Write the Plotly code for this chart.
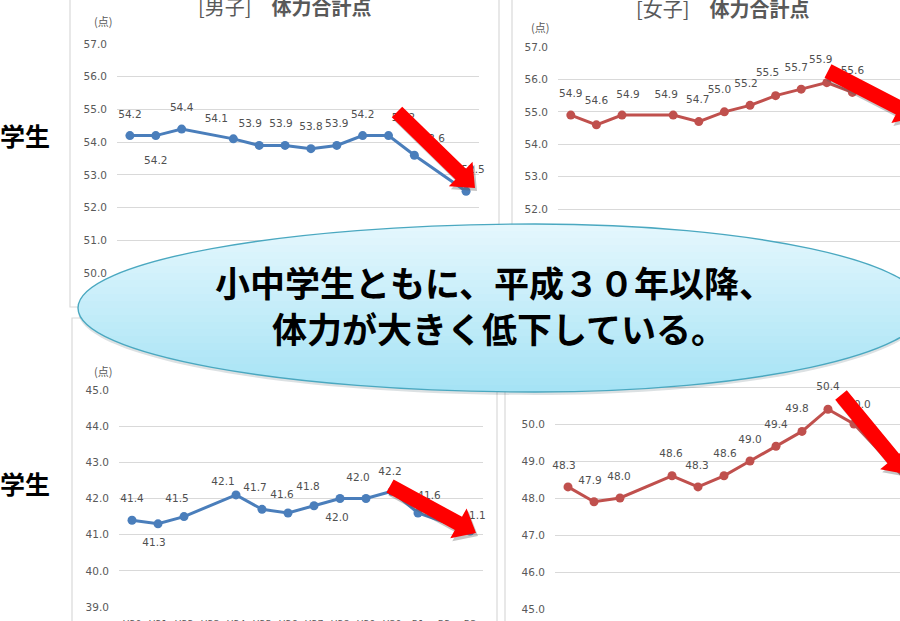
import math
import plotly.graph_objects as go

W, H = 900, 621

# survey years (H23 and R2 had no survey)
years = ["H20", "H21", "H22", "H23", "H24", "H25", "H26", "H27", "H28", "H29", "H30", "R1", "R2", "R3"]

elem_boys = [54.2, 54.2, 54.4, None, 54.1, 53.9, 53.9, 53.8, 53.9, 54.2, 54.2, 53.6, None, 52.5]
elem_girls = [54.9, 54.6, 54.9, None, 54.9, 54.7, 55.0, 55.2, 55.5, 55.7, 55.9, 55.6, None, None]
jh_boys = [41.4, 41.3, 41.5, None, 42.1, 41.7, 41.6, 41.8, 42.0, 42.0, 42.2, 41.6, None, 41.1]
jh_girls = [48.3, 47.9, 48.0, None, 48.6, 48.3, 48.6, 49.0, 49.4, 49.8, 50.4, 50.0, None, 48.5]

BLUE = "#4a7ebb"
RED = "#c0504d"
GRAY = "#595959"

# label offsets in pixels (dx, dy) for each point
off_eb = [(0, -20), (0, 26), (0, -21), None, (-17, -19), (-9, -21), (-4, -21), (0, -21),
          (0, -21), (0, -20), (15, -17), (19, -16), None, (7, -21)]
off_eg = [(0, -21), (0, -23), (6, -20), None, (-7, -20), (-1, -21), (-5, -21), (-4, -21),
          (-8, -22), (-5, -21), (-6, -22), (0, -21), None, None]
off_jb = [(0, -21), (-4, 20), (-7, -17), None, (-13, -13), (-7, -21), (-6, -18), (-6, -18),
          (-3, 20), (-8, -20), (-2, -19), (11, -17), None, (4, -15)]
off_jg = [(-4, -21), (-4, -20), (-1, -21), None, (-1, -21), (-1, -21), (1, -21), (0, -21),
          (0, -21), (-5, -22), (0, -22), (5, -19), None, None]

# plot areas in pixels: x from/to, y top/bottom; "hide" = tick labels under the balloon
charts = [
    dict(vals=elem_boys, color=BLUE, offs=off_eb, xdom=(117, 479), ydom=(44, 273),
         xr=[-0.5, 13.5], yr=[50, 57], xlabels=False, hide=[]),
    dict(vals=elem_girls, color=RED, offs=off_eg, xdom=(558, 900), ydom=(47, 274),
         xr=[-0.5, 12.86], yr=[50, 57], xlabels=False, hide=[50, 51]),
    dict(vals=jh_boys, color=BLUE, offs=off_jb, xdom=(119, 483), ydom=(390, 607),
         xr=[-0.5, 13.5], yr=[39, 45], xlabels=True, hide=[]),
    dict(vals=jh_girls, color=RED, offs=off_jg, xdom=(555, 900), ydom=(350, 609),
         xr=[-0.5, 12.77], yr=[45, 52], xlabels=True, hide=[51, 52]),
]


def px_x(x):
    return x / W


def px_y(y):
    return 1 - y / H


def pt(x, y):
    return "{0:.5f},{1:.5f}".format(px_x(x), px_y(y))


def arrow_path(tail, tip, shaft=15, head=34, head_len=20, shift=(0, 0)):
    tx, ty = tail[0] + shift[0], tail[1] + shift[1]
    hx, hy = tip[0] + shift[0], tip[1] + shift[1]
    L = math.hypot(hx - tx, hy - ty)
    ux, uy = (hx - tx) / L, (hy - ty) / L
    nx, ny = -uy, ux
    bx, by = hx - ux * head_len, hy - uy * head_len
    pts = [(tx + nx * shaft / 2, ty + ny * shaft / 2), (bx + nx * shaft / 2, by + ny * shaft / 2),
           (bx + nx * head / 2, by + ny * head / 2), (hx, hy),
           (bx - nx * head / 2, by - ny * head / 2), (bx - nx * shaft / 2, by - ny * shaft / 2),
           (tx - nx * shaft / 2, ty - ny * shaft / 2)]
    return "M " + " L ".join(pt(x, y) for x, y in pts) + " Z"


# callout balloon: a bit longer on the left than on the right
EL = dict(cx=535, cy=308, rxl=457, rxr=390, ry=84)


def ellipse_path(cx, cy, rxl, rxr, ry, dy=0):
    k = 0.5523
    cy = cy + dy
    return ("M " + pt(cx - rxl, cy)
            + " C " + pt(cx - rxl, cy - k * ry) + " " + pt(cx - k * rxl, cy - ry) + " " + pt(cx, cy - ry)
            + " C " + pt(cx + k * rxr, cy - ry) + " " + pt(cx + rxr, cy - k * ry) + " " + pt(cx + rxr, cy)
            + " C " + pt(cx + rxr, cy + k * ry) + " " + pt(cx + k * rxr, cy + ry) + " " + pt(cx, cy + ry)
            + " C " + pt(cx - k * rxl, cy + ry) + " " + pt(cx - rxl, cy + k * ry) + " " + pt(cx - rxl, cy)
            + " Z")


def band_path(y0, y1, cx, cy, rxl, rxr, ry):
    # horizontal strip of the balloon between y0 and y1
    def half(y):
        t = max(0.0, 1 - ((y - cy) / ry) ** 2)
        return math.sqrt(t)
    ys = [y0 + (y1 - y0) * j / 4 for j in range(5)]
    left = [(cx - rxl * half(y), y) for y in ys]
    right = [(cx + rxr * half(y), y) for y in reversed(ys)]
    return "M " + " L ".join(pt(x, y) for x, y in left + right) + " Z"


def mix(c0, c1, t):
    a = [int(c0[i:i + 2], 16) for i in (1, 3, 5)]
    b = [int(c1[i:i + 2], 16) for i in (1, 3, 5)]
    return "#" + "".join("{0:02x}".format(round(a[i] + (b[i] - a[i]) * t)) for i in range(3))


fig = go.Figure()
idx = list(range(len(years)))

for n, c in enumerate(charts, start=1):
    xa = "x" if n == 1 else "x{0}".format(n)
    ya = "y" if n == 1 else "y{0}".format(n)
    fig.add_trace(go.Scatter(
        x=idx, y=c["vals"], mode="lines+markers", connectgaps=True,
        line=dict(color=c["color"], width=3), marker=dict(size=9, color=c["color"]),
        xaxis=xa, yaxis=ya, showlegend=False, hoverinfo="skip"))

    # data labels, shifted by pixels through the axis scale
    step = (c["xdom"][1] - c["xdom"][0]) / (c["xr"][1] - c["xr"][0])
    ppu = (c["ydom"][1] - c["ydom"][0]) / (c["yr"][1] - c["yr"][0])
    lx, ly, lt = [], [], []
    for i, v in enumerate(c["vals"]):
        if v is None or c["offs"][i] is None:
            continue
        dx, dy = c["offs"][i]
        lx.append(i + dx / step)
        ly.append(v - dy / ppu)
        lt.append("{0:.1f}".format(v))
    fig.add_trace(go.Scatter(
        x=lx, y=ly, text=lt, mode="text", textposition="middle center",
        textfont=dict(size=10.5, color="#505050", family="DejaVu Sans"),
        xaxis=xa, yaxis=ya, showlegend=False, hoverinfo="skip", cliponaxis=False))

    yticks = list(range(c["yr"][0], c["yr"][1] + 1))
    ytext = ["" if t in c["hide"] else "{0:.1f}".format(t) for t in yticks]

    xkey = "xaxis" if n == 1 else "xaxis{0}".format(n)
    ykey = "yaxis" if n == 1 else "yaxis{0}".format(n)
    fig.layout[xkey] = dict(
        domain=[px_x(c["xdom"][0]), px_x(c["xdom"][1])], range=c["xr"], anchor=ya,
        tickvals=idx, ticktext=years, showgrid=False, zeroline=False, showline=False,
        showticklabels=c["xlabels"], ticks="", ticklabelstandoff=9,
        tickfont=dict(size=9.5, color=GRAY, family="DejaVu Sans"))
    fig.layout[ykey] = dict(
        domain=[px_y(c["ydom"][1]), px_y(c["ydom"][0])], range=c["yr"], anchor=xa,
        tickvals=yticks, ticktext=ytext, showgrid=True, gridcolor="#d9d9d9", gridwidth=1.3,
        zeroline=False, showline=False, ticks="", ticklabelstandoff=9,
        tickfont=dict(size=10.5, color=GRAY, family="DejaVu Sans"))

shapes = []
# chart frames
for x0, y0, x1, y1 in [(70, -5, 499, 307), (512, -5, 910, 307), (72, 318, 497, 630), (505, 318, 910, 630)]:
    shapes.append(dict(type="rect", xref="paper", yref="paper", x0=px_x(x0), x1=px_x(x1),
                       y0=px_y(y1), y1=px_y(y0), line=dict(color="#d9d9d9", width=1.2), layer="below"))

# red arrows with a soft shadow
arrows = [((397, 112), (475, 188)), ((828, 71), (917, 117)), ((390, 486), (476, 533)), ((841, 395), (906, 474))]
for tail, tip in arrows:
    shapes.append(dict(type="path", xref="paper", yref="paper", path=arrow_path(tail, tip, shift=(2, 3)),
                       fillcolor="rgba(90,90,90,0.35)", line=dict(width=0), layer="above"))
    shapes.append(dict(type="path", xref="paper", yref="paper", path=arrow_path(tail, tip),
                       fillcolor="#ff0000", line=dict(width=0), layer="above"))

# balloon: shadow, vertical gradient in strips, outline
shapes.append(dict(type="path", xref="paper", yref="paper", path=ellipse_path(dy=3, **EL),
                   fillcolor="rgba(60,90,100,0.18)", line=dict(width=0), layer="above"))
n_bands = 24
top, bot = EL["cy"] - EL["ry"], EL["cy"] + EL["ry"]
for b in range(n_bands):
    y0 = top + (bot - top) * b / n_bands
    y1 = top + (bot - top) * (b + 1) / n_bands + 0.6
    shapes.append(dict(type="path", xref="paper", yref="paper", path=band_path(y0, min(y1, bot), **EL),
                       fillcolor=mix("#e4f7fd", "#a6e3f5", b / (n_bands - 1)), line=dict(width=0),
                       layer="above"))
shapes.append(dict(type="path", xref="paper", yref="paper", path=ellipse_path(**EL),
                   fillcolor="rgba(0,0,0,0)", line=dict(color="#4aa8c0", width=1.4), layer="above"))

ann = []
jp = "Noto Sans CJK JP"


def note(text, x, y, size, color, bold=False):
    if bold:
        text = "<b>" + text + "</b>"
    ann.append(dict(text=text, x=px_x(x), y=px_y(y), xref="paper", yref="paper", showarrow=False,
                    xanchor="center", yanchor="middle", font=dict(family=jp, size=size, color=color)))


note("[男子]　<b>体力合計点</b>", 285, 6, 20, GRAY)
note("[女子]　<b>体力合計点</b>", 723, 9, 20, GRAY)
for x, y in [(103, 21), (540, 27), (103, 371)]:
    note("(点)", x, y, 11, GRAY)
for y in [135, 483]:
    note("学生", 25, y, 25, "#000000", bold=True)
note("小中学生ともに、平成３０年以降、", 494, 281, 35, "#000000", bold=True)
note("体力が大きく低下している。", 499, 327, 35, "#000000", bold=True)

fig.update_layout(
    width=W, height=H, margin=dict(l=0, r=0, t=0, b=0, autoexpand=False),
    paper_bgcolor="white", plot_bgcolor="rgba(0,0,0,0)",
    shapes=shapes, annotations=ann, showlegend=False)

# page body margin would push the figure 8px right and down
fig.write_html("out.html", config={"displayModeBar": False},
               post_script="document.body.style.margin='0px';")
